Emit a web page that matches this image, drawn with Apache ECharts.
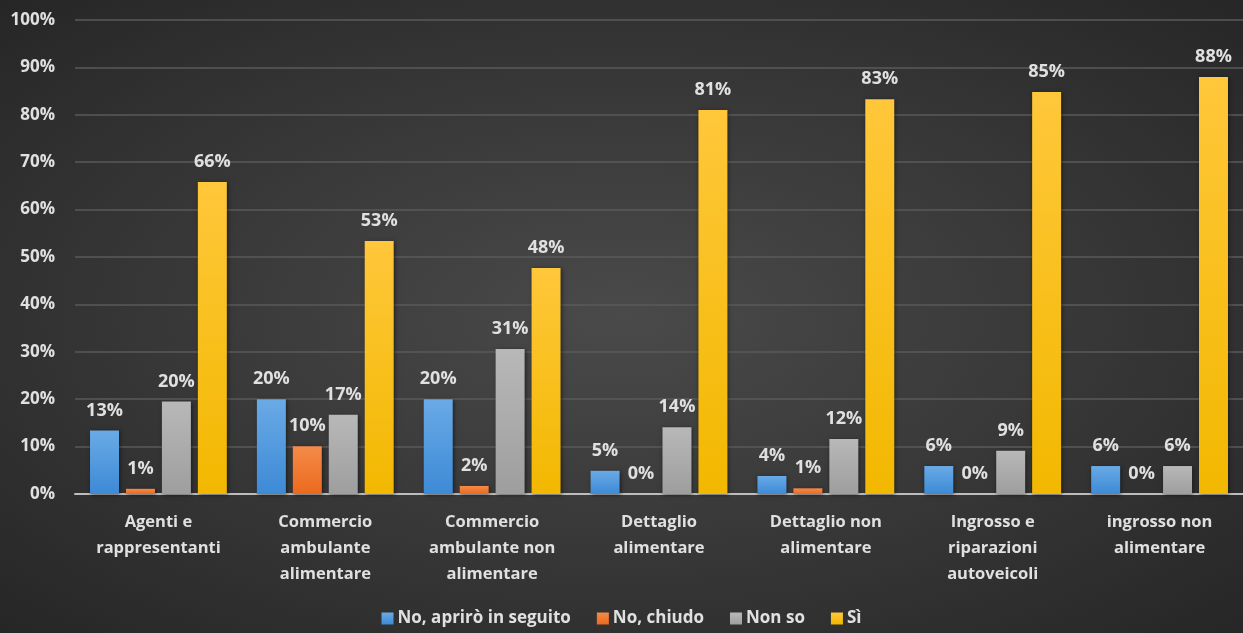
<!DOCTYPE html>
<html>
<head>
<meta charset="utf-8">
<script src="https://cdn.jsdelivr.net/npm/echarts@6/dist/echarts.min.js"></script>
<style>
html,body{margin:0;padding:0;width:1243px;height:633px;overflow:hidden;}
#c{width:1243px;height:633px;background:radial-gradient(ellipse at 50% 50%, #4a4a4a 0%, #3a3a3a 45%, #262626 100%);}
</style>
</head>
<body>
<div id="c"></div>
<script>
const categories = [
  "Agenti e\nrappresentanti",
  "Commercio\nambulante\nalimentare",
  "Commercio\nambulante non\nalimentare",
  "Dettaglio\nalimentare",
  "Dettaglio non\nalimentare",
  "Ingrosso e\nriparazioni\nautoveicoli",
  "ingrosso non\nalimentare"
];
const seriesNames = ["No, aprirò in seguito", "No, chiudo", "Non so", "Sì"];
const noApriro = [13.4, 20.0, 20.0, 4.9, 3.8, 5.9, 5.9];
const noChiudo = [1.1, 10.1, 1.7, 0, 1.2, 0, 0];
const nonSo = [19.5, 16.7, 30.6, 14.1, 11.6, 9.1, 5.9];
const si = [65.8, 53.4, 47.7, 81.0, 83.3, 84.8, 88.0];
const yTicks = [0, 10, 20, 30, 40, 50, 60, 70, 80, 90, 100];

const colors = [
  ['#6aaae6', '#3d8ad6'],
  ['#f48a4a', '#ec6a1c'],
  ['#b8b8b8', '#9e9e9e'],
  ['#ffc73a', '#f2b800']
];
const dataSets = [noApriro, noChiudo, nonSo, si];
const txt = '#e0e0e0';
const font = '"Open Sans", sans-serif';

const chart = echarts.init(document.getElementById('c'), null, {renderer: 'canvas'});
chart.setOption({
  backgroundColor: 'transparent',
  animation: false,
  grid: {left: 75, right: 0, top: 20, bottom: 139, containLabel: false},
  legend: {
    bottom: 1,
    left: 'center',
    itemWidth: 12,
    itemHeight: 12,
    itemGap: 26,
    icon: 'rect',
    textStyle: {color: txt, fontSize: 17, fontWeight: 'bold', fontFamily: font, padding: [0, 0, 0, -1]},
    data: seriesNames
  },
  xAxis: {
    type: 'category',
    data: categories,
    axisLine: {show: true, lineStyle: {color: '#bdbdbd', width: 2}},
    axisTick: {show: false},
    axisLabel: {
      color: txt, fontSize: 16.5, fontWeight: 'bold', fontFamily: font,
      lineHeight: 26, margin: 15, interval: 0
    }
  },
  yAxis: {
    type: 'value',
    min: 0, max: 100, interval: 10,
    axisLine: {show: false},
    axisTick: {show: false},
    splitLine: {lineStyle: {color: '#5a5a5a', width: 1.5}},
    axisLabel: {
      color: txt, fontSize: 17, fontWeight: 'bold', fontFamily: font, margin: 20,
      formatter: v => yTicks.includes(v) ? v + '%' : ''
    }
  },
  series: seriesNames.map((name, i) => ({
    name: name,
    type: 'bar',
    data: dataSets[i],
    barGap: '24%',
    barCategoryGap: '18%',
    itemStyle: {
      color: new echarts.graphic.LinearGradient(0, 0, 0, 1, [
        {offset: 0, color: colors[i][0]},
        {offset: 1, color: colors[i][1]}
      ]),
      shadowColor: 'rgba(0,0,0,0.5)',
      shadowBlur: 4,
      shadowOffsetX: 1,
      shadowOffsetY: 1
    },
    label: {
      show: true,
      position: 'top',
      distance: 11,
      color: txt,
      fontSize: 18,
      fontWeight: 'bold',
      fontFamily: font,
      formatter: p => Math.round(p.value) + '%'
    }
  }))
});
</script>
</body>
</html>
